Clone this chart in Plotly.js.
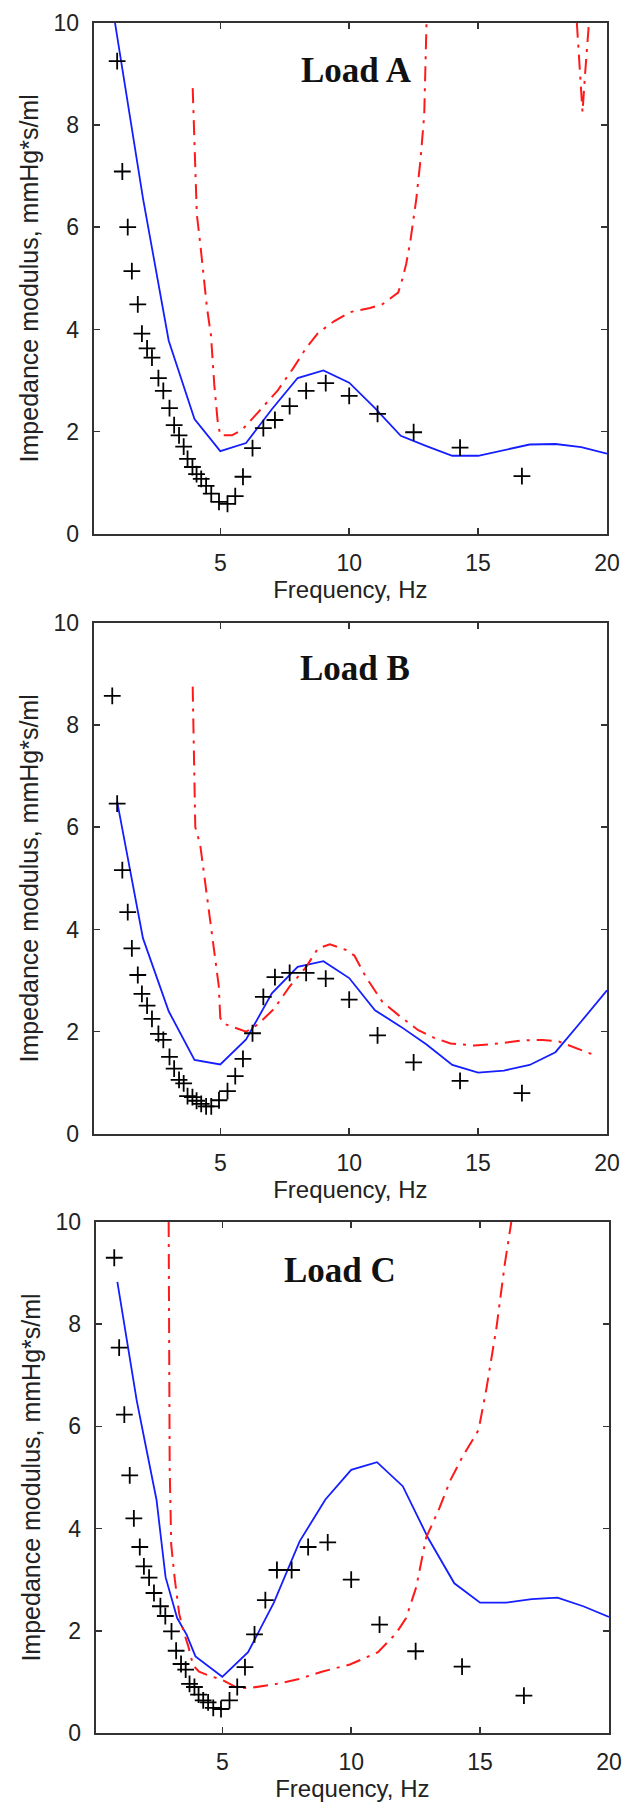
<!DOCTYPE html>
<html>
<head>
<meta charset="utf-8">
<script src="https://cdn.plot.ly/plotly-3.0.1.min.js"></script>
<style>html,body{margin:0;padding:0;background:#fff;}#chart{width:629px;height:1802px;}</style>
</head>
<body>
<div id="chart"></div>
<script>
// Measured frequencies (Hz) shared by all three loads
const measFreq = [0.81, 1.0, 1.2, 1.41, 1.57, 1.8, 1.96, 2.16, 2.35, 2.6, 2.79, 3.03, 3.21, 3.4, 3.58, 3.73, 3.92, 4.08, 4.26, 4.45, 4.65, 4.95, 5.28, 5.58, 5.88, 6.25, 6.67, 7.12, 7.69, 8.33, 9.09, 10.0, 11.1, 12.5, 14.3, 16.7];
// Measured impedance modulus (crosses)
const measA = [null, 9.25, 7.09, 6.0, 5.14, 4.49, 3.92, 3.63, 3.45, 3.05, 2.80, 2.46, 2.13, 1.93, 1.71, 1.47, 1.31, 1.17, 1.08, 0.94, 0.79, 0.63, 0.59, 0.74, 1.12, 1.68, 2.07, 2.23, 2.5, 2.80, 2.95, 2.70, 2.35, 1.99, 1.69, 1.13];
const measB = [8.57, 6.46, 5.16, 4.34, 3.63, 3.11, 2.74, 2.51, 2.25, 1.96, 1.84, 1.51, 1.28, 1.06, 0.99, 0.74, 0.72, 0.65, 0.59, 0.54, 0.54, 0.66, 0.84, 1.13, 1.47, 1.97, 2.68, 3.07, 3.15, 3.15, 3.04, 2.63, 1.93, 1.40, 1.04, 0.80];
const measC = [9.30, 7.54, 6.23, 5.04, 4.2, 3.64, 3.26, 3.04, 2.74, 2.48, 2.29, 1.99, 1.61, 1.35, 1.24, 0.96, 0.9, 0.75, 0.64, 0.6, 0.49, 0.47, 0.64, 0.9, 1.29, 1.93, 2.6, 3.19, 3.19, 3.64, 3.73, 3.0, 2.12, 1.60, 1.30, 0.73];

// Model 1 (blue solid)
const blueAx = [0.915, 1, 2, 3, 4, 5, 6, 7, 8, 9, 10, 11, 12, 13, 14, 15, 16, 17, 18, 19, 20];
const blueAy = [10.0, 9.73, 6.57, 3.78, 2.25, 1.62, 1.78, 2.44, 3.05, 3.2, 2.96, 2.46, 1.92, 1.72, 1.53, 1.53, 1.64, 1.75, 1.76, 1.70, 1.57];
const blueBx = [1.0, 2, 3, 4, 5, 6, 7, 8, 9, 10, 11, 12, 13, 14, 15, 16, 17, 18, 19, 20];
const blueBy = [6.5, 3.83, 2.4, 1.45, 1.36, 1.85, 2.75, 3.27, 3.38, 3.05, 2.42, 2.1, 1.75, 1.35, 1.2, 1.24, 1.35, 1.6, 2.2, 2.81];
const blueCx = [0.93, 1.35, 1.68, 2.09, 2.45, 2.8, 3.25, 3.62, 3.96, 5, 6, 7, 8, 9, 10, 11, 12, 13, 14, 15, 16, 17, 18, 19, 20];
const blueCy = [8.83, 7.49, 6.51, 5.47, 4.56, 3.05, 2.25, 1.92, 1.5, 1.1, 1.58, 2.55, 3.75, 4.57, 5.15, 5.3, 4.83, 3.8, 2.93, 2.55, 2.55, 2.62, 2.65, 2.48, 2.27];

// Model 2 (red dash-dot)
const redAx = [3.93, 4.09, 4.22, 4.48, 4.64, 4.77, 4.9, 5.0, 5.45, 5.83, 6.45, 7.23, 7.85, 8.32, 8.79, 9.41, 10.03, 10.81, 11.28, 11.9, 12.06, 12.21, 12.37, 12.6, 12.76, 12.91, 13.0, null, 18.83, 18.95, 19.05, 19.15, 19.3];
const redAy = [8.72, 6.25, 5.69, 4.44, 3.88, 2.9, 2.2, 1.93, 1.93, 2.03, 2.37, 2.81, 3.26, 3.63, 3.93, 4.16, 4.34, 4.42, 4.49, 4.72, 4.98, 5.28, 5.72, 6.54, 7.29, 8.19, 10.0, null, 10.0, 9.0, 8.25, 9.0, 10.0];
const redBx = [3.93, 4.03, 4.22, 4.38, 4.48, 4.68, 4.77, 4.94, 5.0, 5.13, 5.45, 6.0, 6.45, 7.07, 7.7, 8.32, 8.79, 9.25, 9.88, 10.2, 10.65, 11.28, 11.9, 12.68, 13.3, 13.93, 14.86, 15.79, 16.73, 17.5, 18.13, 18.75, 19.53];
const redBy = [8.75, 6.0, 5.66, 5.06, 4.65, 3.98, 3.58, 2.9, 2.27, 2.16, 2.1, 2.0, 2.14, 2.44, 2.89, 3.26, 3.63, 3.71, 3.6, 3.49, 3.07, 2.59, 2.33, 2.03, 1.88, 1.77, 1.73, 1.77, 1.83, 1.84, 1.81, 1.69, 1.54];
const redCx = [2.92, 2.93, 2.96, 3.02, 3.16, 3.33, 3.49, 3.68, 3.87, 4.1, 4.5, 5.0, 5.59, 6.06, 7.0, 7.93, 8.86, 9.95, 11.04, 11.74, 12.13, 12.52, 12.91, 13.38, 13.85, 14.31, 14.94, 15.25, 15.64, 15.95, 16.21];
const redCy = [10.0, 7.43, 5.18, 3.68, 3.0, 2.33, 2.0, 1.7, 1.32, 1.2, 1.12, 1.04, 0.88, 0.88, 0.95, 1.05, 1.2, 1.34, 1.58, 1.95, 2.25, 2.85, 3.83, 4.35, 4.95, 5.4, 5.93, 6.75, 7.95, 9.15, 10.0];

const panelLabels = ['Load A', 'Load B', 'Load C'];
const labelPos = [[10.28, 9.07], [10.22, 9.1], [9.57, 9.05]];
const xTicks = [5, 10, 15, 20];
const yTicks = [0, 2, 4, 6, 8, 10];
const xTitle = 'Frequency, Hz';
const yTitle = 'Impedance modulus, mmHg*s/ml';

const W = 629, H = 1802;
const BLUE = 'rgb(20,30,255)', RED = 'rgb(255,25,25)';
const sans = 'Liberation Sans, Arial, sans-serif';

const panels = [
  {meas: measA, bx: blueAx, by: blueAy, rx: redAx, ry: redAy, px: [93.7, 607], py: [22.7, 534]},
  {meas: measB, bx: blueBx, by: blueBy, rx: redBx, ry: redBy, px: [93.7, 607], py: [622.7, 1134]},
  {meas: measC, bx: blueCx, by: blueCy, rx: redCx, ry: redCy, px: [95.7, 609], py: [1222, 1733]}
];

const traces = [];
const layout = {
  width: W, height: H,
  margin: {l: 0, r: 0, t: 0, b: 0},
  paper_bgcolor: '#fff', plot_bgcolor: '#fff',
  showlegend: false,
  annotations: []
};

panels.forEach((p, i) => {
  const sfx = i === 0 ? '' : String(i + 1);
  const xr = 'x' + sfx, yr = 'y' + sfx;
  traces.push({x: p.bx, y: p.by, xaxis: xr, yaxis: yr, mode: 'lines', line: {color: BLUE, width: 1.8}, hoverinfo: 'skip'});
  traces.push({x: p.rx, y: p.ry, xaxis: xr, yaxis: yr, mode: 'lines', connectgaps: false, line: {color: RED, width: 2, dash: '15px,7px,3px,7px'}, hoverinfo: 'skip'});
  traces.push({x: measFreq, y: p.meas, xaxis: xr, yaxis: yr, mode: 'markers', marker: {symbol: 'cross-thin', size: 12, line: {color: '#000', width: 1.8}}, hoverinfo: 'skip'});
  const common = {
    ticks: 'inside', ticklen: 6, tickwidth: 1.5, tickcolor: '#333',
    mirror: 'ticks', showline: true, linecolor: '#333', linewidth: 2,
    showgrid: false, zeroline: false, fixedrange: true,
    tickfont: {family: sans, size: 23, color: '#222'}
  };
  layout['xaxis' + sfx] = Object.assign({}, common, {
    domain: [p.px[0] / W, p.px[1] / W], anchor: yr,
    range: [0.09, 20], tickvals: xTicks, ticktext: xTicks.map(String),
    ticklabelstandoff: 7,
    title: {text: xTitle, font: {family: sans, size: 24, color: '#222'}, standoff: 3}
  });
  layout['yaxis' + sfx] = Object.assign({}, common, {
    domain: [1 - p.py[1] / H, 1 - p.py[0] / H], anchor: xr,
    range: [0, 10], tickvals: yTicks, ticktext: yTicks.map(String),
    ticklabelstandoff: 8,
    title: {text: yTitle, font: {family: sans, size: 25, color: '#222'}, standoff: 8}
  });
  layout.annotations.push({
    xref: xr, yref: yr, x: labelPos[i][0], y: labelPos[i][1],
    text: panelLabels[i], showarrow: false, xanchor: 'center', yanchor: 'middle',
    font: {family: 'Liberation Serif, Times New Roman, serif', size: 35, color: '#111', weight: 'bold'}
  });
});

Plotly.newPlot('chart', traces, layout, {staticPlot: true, displayModeBar: false});
</script>
</body>
</html>
